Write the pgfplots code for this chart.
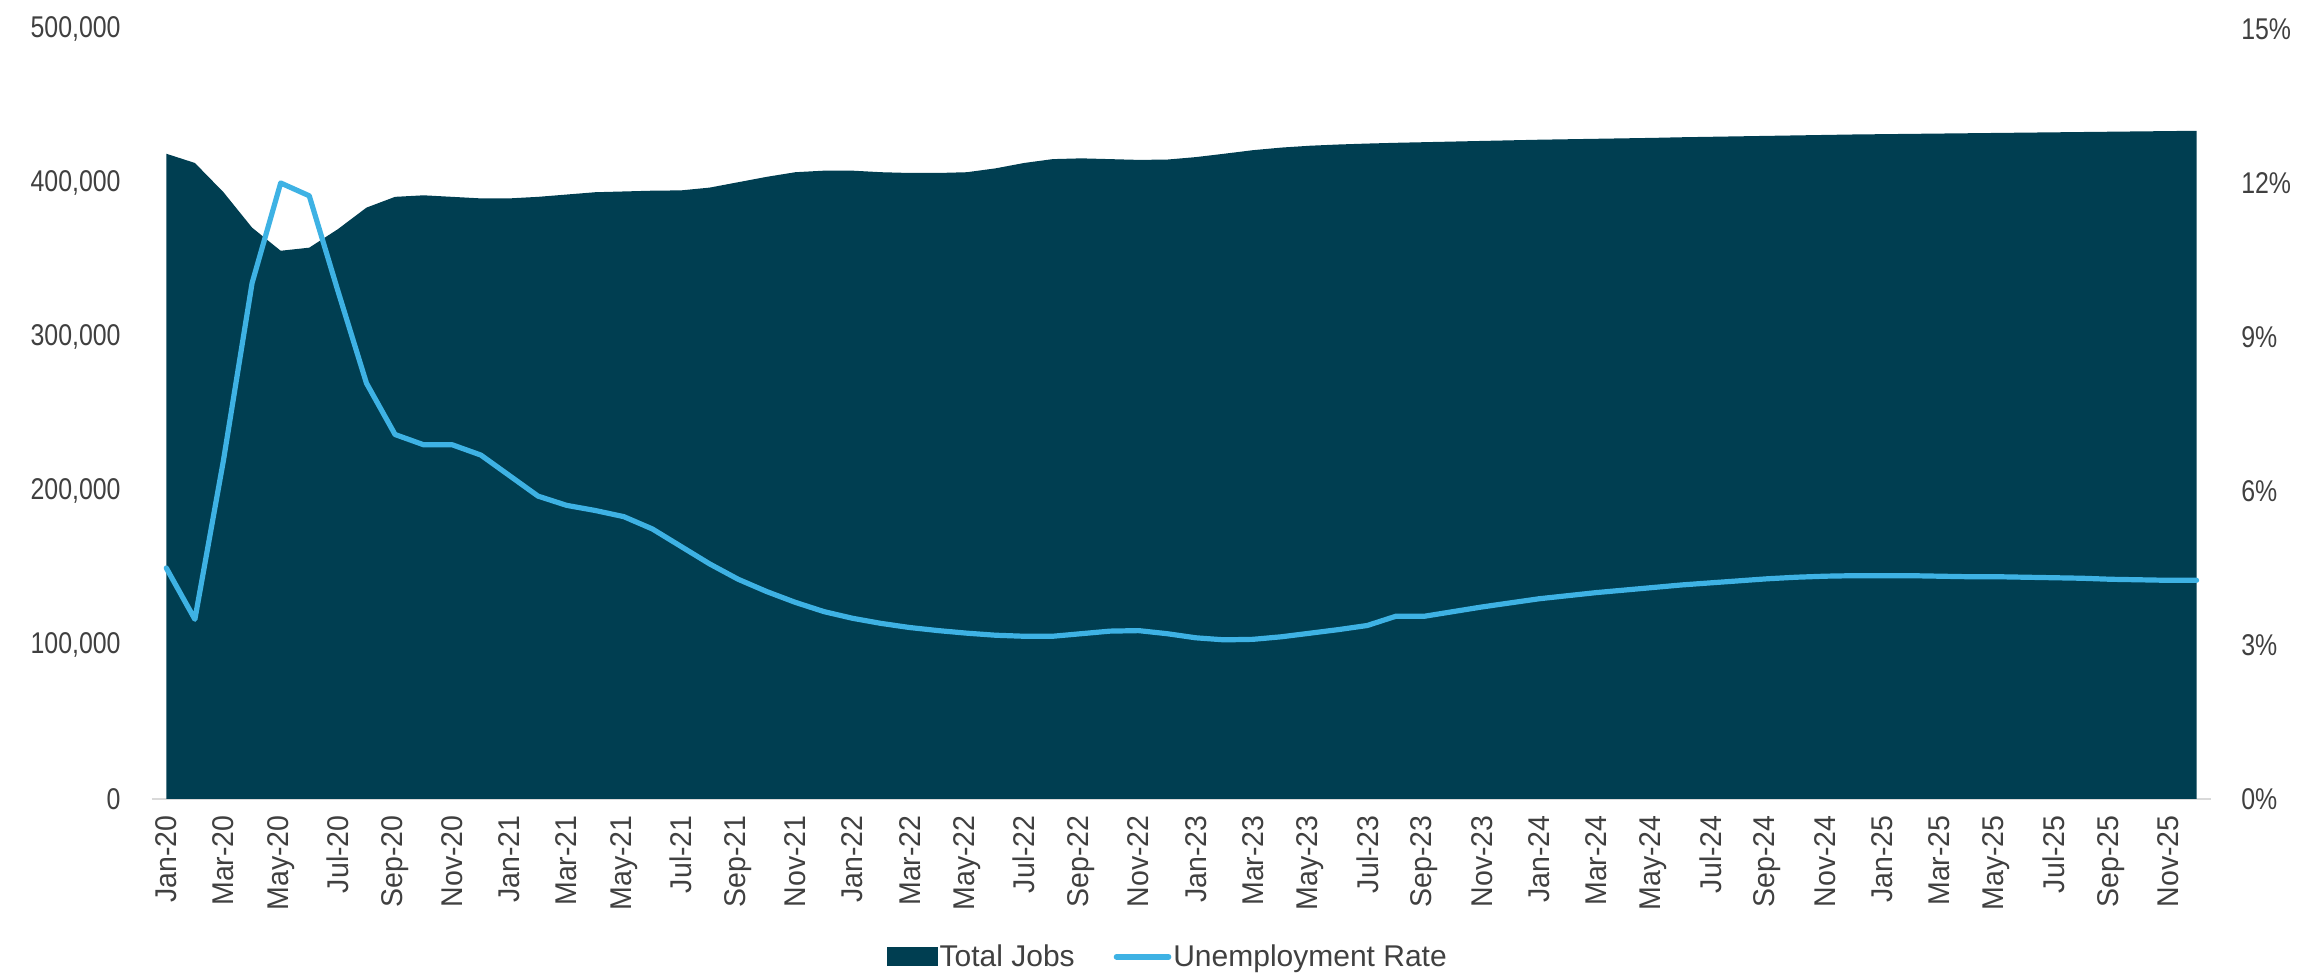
\documentclass[border=0pt]{standalone}
\usepackage{fontspec}
\setmainfont{Liberation Sans}
\newfontfamily\condfont{Liberation Sans}[FakeStretch=0.95]
\newfontfamily\legfont{Liberation Sans}[FakeStretch=1.0]
\newfontfamily\numfont{Liberation Sans}[FakeStretch=0.83]
\usepackage{pgfplots}
\usepackage{pgfplotstable}
\pgfplotsset{compat=1.18}

\definecolor{jobs}{RGB}{0,62,81}
\definecolor{rate}{RGB}{62,178,228}
\definecolor{txt}{RGB}{64,64,64}
\definecolor{baseline}{RGB}{217,217,217}

% month index, total jobs, unemployment rate (%)
\pgfplotstableread{
x jobs rate
0 419000 4.50
1 413000 3.50
2 394000 6.60
3 371000 10.05
4 356000 12.00
5 358000 11.75
6 370000 9.90
7 384000 8.10
8 391000 7.10
9 392000 6.90
10 391000 6.90
11 390000 6.70
12 390000 6.30
13 391000 5.90
14 392500 5.72
15 394000 5.62
16 394500 5.50
17 395000 5.26
18 395200 4.92
19 397000 4.58
20 400500 4.28
21 404000 4.04
22 407000 3.83
23 408000 3.65
24 408000 3.52
25 407000 3.42
26 406500 3.34
27 406500 3.28
28 407000 3.23
29 409500 3.19
30 413000 3.17
31 415500 3.17
32 416000 3.22
33 415500 3.27
34 415000 3.28
35 415200 3.22
36 416800 3.14
37 419000 3.10
38 421300 3.11
39 423000 3.16
40 424200 3.23
41 425000 3.30
42 425600 3.38
43 426100 3.56
44 426500 3.56
45 426900 3.65
46 427300 3.74
47 427700 3.82
48 428100 3.90
49 428400 3.96
50 428700 4.02
51 429000 4.07
52 429300 4.12
53 429700 4.17
54 430000 4.21
55 430300 4.25
56 430600 4.29
57 430900 4.32
58 431200 4.34
59 431500 4.35
60 431700 4.35
61 431900 4.35
62 432100 4.34
63 432300 4.33
64 432500 4.33
65 432700 4.32
66 432900 4.31
67 433100 4.30
68 433300 4.28
69 433500 4.27
70 433700 4.26
71 433900 4.26
}\data

\begin{document}
\begin{tikzpicture}
\useasboundingbox (-76pt,-89pt) rectangle (1076pt,399.5pt);
\pgfplotsset{
  common/.style={
    width=1029.5pt, height=385pt, scale only axis,
    xmin=-0.5, xmax=71.5,
    major tick length=0pt,
    ticklabel style={text=txt},
    y axis line style={draw=none},
    scaled y ticks=false,
  }
}
\begin{axis}[common,
  axis x line*=bottom, axis y line*=left,
  x axis line style={draw=baseline, line width=1pt},
  ymin=0, ymax=500000, ytick={0,100000,200000,300000,400000,500000},
  yticklabels={0,{100,000},{200,000},{300,000},{400,000},{500,000}},
  yticklabel style={font=\numfont\fontsize{15}{15}\selectfont,
    inner xsep=15.5pt, inner ysep=0pt},
  xtick={0,2,...,70},
  xticklabels={Jan-20,Mar-20,May-20,Jul-20,Sep-20,Nov-20,
    Jan-21,Mar-21,May-21,Jul-21,Sep-21,Nov-21,
    Jan-22,Mar-22,May-22,Jul-22,Sep-22,Nov-22,
    Jan-23,Mar-23,May-23,Jul-23,Sep-23,Nov-23,
    Jan-24,Mar-24,May-24,Jul-24,Sep-24,Nov-24,
    Jan-25,Mar-25,May-25,Jul-25,Sep-25,Nov-25},
  xticklabel style={font=\condfont\fontsize{15}{15}\selectfont,
    rotate=90, anchor=east, inner xsep=8pt, inner ysep=0pt},
]
\addplot[fill=jobs, draw=none] table[x=x, y=jobs] {\data} \closedcycle;
\end{axis}

\begin{axis}[common,
  axis x line=none, axis y line*=right,
  ymin=0, ymax=15, ytick={0,3,6,9,12,15},
  yticklabels={0\%,3\%,6\%,9\%,12\%,15\%},
  yticklabel style={font=\numfont\fontsize{15}{15}\selectfont,
    inner xsep=15pt, inner ysep=0pt},
  legend style={at={(0.4934,-0.205)}, anchor=center, draw=none, fill=none,
    legend columns=-1, font=\legfont\fontsize{15}{15}\selectfont, text=txt,
    nodes={inner xsep=1pt, inner ysep=1pt},
    /tikz/every even column/.append style={column sep=18.5pt}},
  legend cell align=left,
]
\addlegendimage{legend image code/.code={\fill[jobs] (0pt,-4.5pt) rectangle (25pt,4.5pt);}}
\addlegendentry{Total Jobs}
\addplot[rate, line width=2.6pt, line join=round, line cap=round,
  legend image code/.code={\draw[rate, line width=2.8pt, line cap=round] (0pt,0pt) -- (26pt,0pt);}]
  table[x=x, y=rate] {\data};
\addlegendentry{Unemployment Rate}
\end{axis}
\end{tikzpicture}
\end{document}
